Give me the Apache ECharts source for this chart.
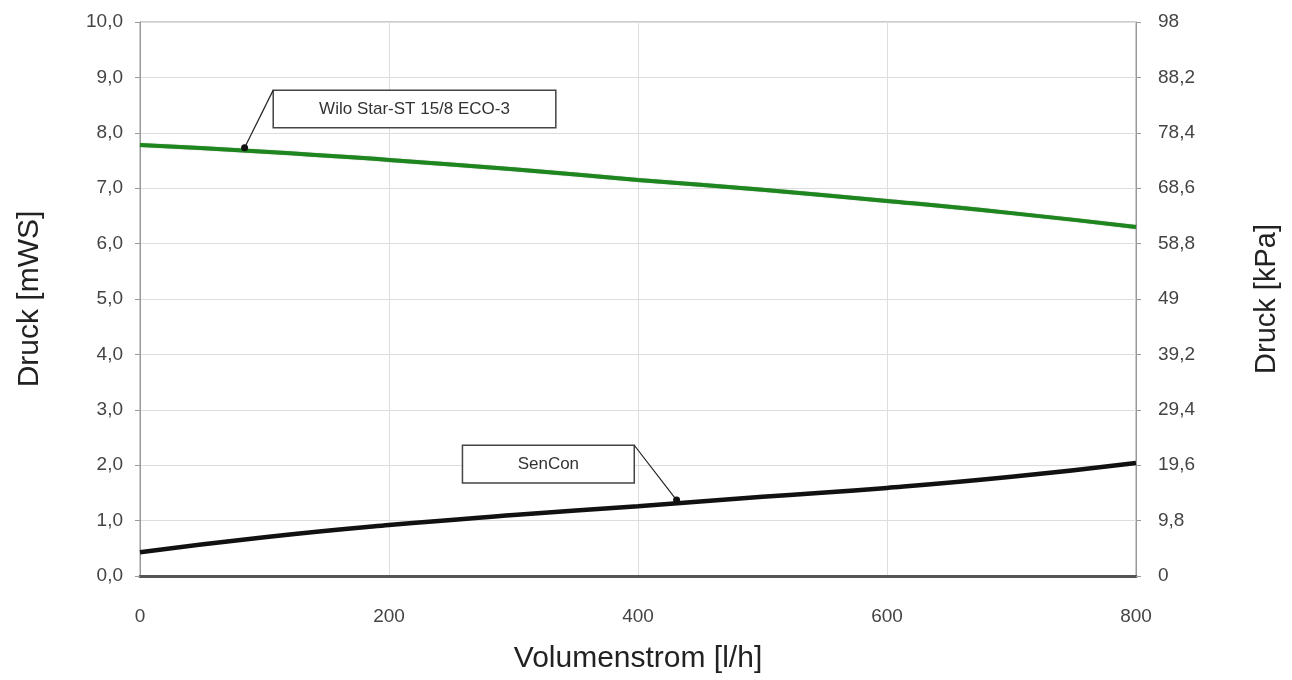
<!DOCTYPE html>
<html><head><meta charset="utf-8">
<script src="https://cdn.jsdelivr.net/npm/echarts@6/dist/echarts.min.js"></script>
<style>html,body{margin:0;padding:0;background:#fff}#c{width:1292px;height:680px}</style>
</head><body><div id="c"></div>
<script>
const flow = [0, 100, 200, 300, 400, 500, 600, 700, 800];
const wilo = [7.78, 7.66, 7.51, 7.34, 7.15, 6.97, 6.77, 6.55, 6.30];
const sencon = [0.43, 0.70, 0.92, 1.10, 1.26, 1.43, 1.59, 1.79, 2.04];
const kpaLabels = ['0', '9,8', '19,6', '29,4', '39,2', '49', '58,8', '68,6', '78,4', '88,2', '98'];
const wiloLabel = 'Wilo Star-ST 15/8 ECO-3';
const senconLabel = 'SenCon';
// annotation anchors (data units): [x, y]
const wiloDot = [84, 7.73];
const wiloBox = [[107, 8.77], [334, 8.09]];
const senDot = [431, 1.37];
const senBox = [[259, 2.36], [397, 1.68]];

const pairs = (xs, ys) => xs.map((x, i) => [x, ys[i]]);
const fmt = v => v.toFixed(1).replace('.', ',');
const FONT = 'Liberation Sans, Arial';
const lblStyle = {color: '#444', fontFamily: FONT, fontSize: 19};

const annot = (dot, box, label, cornerIdx) => ({
  markPoint: {
    symbol: 'circle', symbolSize: 7, silent: true,
    itemStyle: {color: '#111'}, label: {show: false},
    data: [{coord: dot}]
  },
  markLine: {
    symbol: 'none', silent: true,
    lineStyle: {color: '#222', width: 1.2, type: 'solid'},
    label: {show: false},
    data: [[{coord: dot}, {coord: cornerIdx === 0 ? [box[0][0], box[0][1]] : [box[1][0], box[0][1]]}]]
  },
  markArea: {
    silent: true,
    itemStyle: {color: '#fff', borderColor: '#444', borderWidth: 1.5},
    label: {show: true, position: 'inside', color: '#333', fontFamily: FONT, fontSize: 17},
    data: [[{name: label, coord: box[0]}, {coord: box[1]}]]
  }
});

const chart = echarts.init(document.getElementById('c'), null, {renderer: 'canvas'});
chart.setOption({
  animation: false,
  backgroundColor: '#fff',
  grid: {left: 140, right: 156, top: 22, bottom: 104, show: true, borderColor: '#999', borderWidth: 1},
  xAxis: {
    type: 'value', min: 0, max: 800, interval: 200,
    name: 'Volumenstrom [l/h]', nameLocation: 'middle', nameGap: 68,
    nameTextStyle: {fontFamily: FONT, fontSize: 30, color: '#222'},
    axisLine: {show: true, onZero: false, lineStyle: {color: '#555', width: 3}},
    axisTick: {show: false},
    axisLabel: Object.assign({margin: 31}, lblStyle),
    splitLine: {show: true, lineStyle: {color: '#ddd', width: 1}}
  },
  yAxis: [{
    type: 'value', min: 0, max: 10, interval: 1, position: 'left',
    name: 'Druck [mWS]', nameLocation: 'middle', nameGap: 95,
    nameTextStyle: {fontFamily: FONT, fontSize: 30, color: '#222'},
    axisLine: {show: true, lineStyle: {color: '#999', width: 1}},
    axisTick: {show: true, length: 5, lineStyle: {color: '#999'}},
    axisLabel: Object.assign({margin: 17, formatter: fmt}, lblStyle),
    splitLine: {show: true, lineStyle: {color: '#ddd', width: 1}}
  }, {
    type: 'value', min: 0, max: 10, interval: 1, position: 'right',
    name: 'Druck [kPa]', nameLocation: 'middle', nameGap: 116,
    nameTextStyle: {fontFamily: FONT, fontSize: 29, color: '#222'},
    axisLine: {show: true, lineStyle: {color: '#999', width: 1}},
    axisTick: {show: true, length: 5, lineStyle: {color: '#999'}},
    axisLabel: Object.assign({margin: 22, formatter: (v) => kpaLabels[Math.round(v)]}, lblStyle),
    splitLine: {show: false}
  }],
  series: [
    Object.assign({
      type: 'line', name: wiloLabel, data: pairs(flow, wilo), smooth: true,
      showSymbol: false, yAxisIndex: 0,
      lineStyle: {color: '#1e861e', width: 4, shadowColor: 'rgba(0,60,0,0.5)', shadowBlur: 1}
    }, annot(wiloDot, wiloBox, wiloLabel, 0)),
    Object.assign({
      type: 'line', name: senconLabel, data: pairs(flow, sencon), smooth: true,
      showSymbol: false, yAxisIndex: 0,
      lineStyle: {color: '#111', width: 4.5}
    }, annot(senDot, senBox, senconLabel, 1))
  ]
});
</script></body></html>
